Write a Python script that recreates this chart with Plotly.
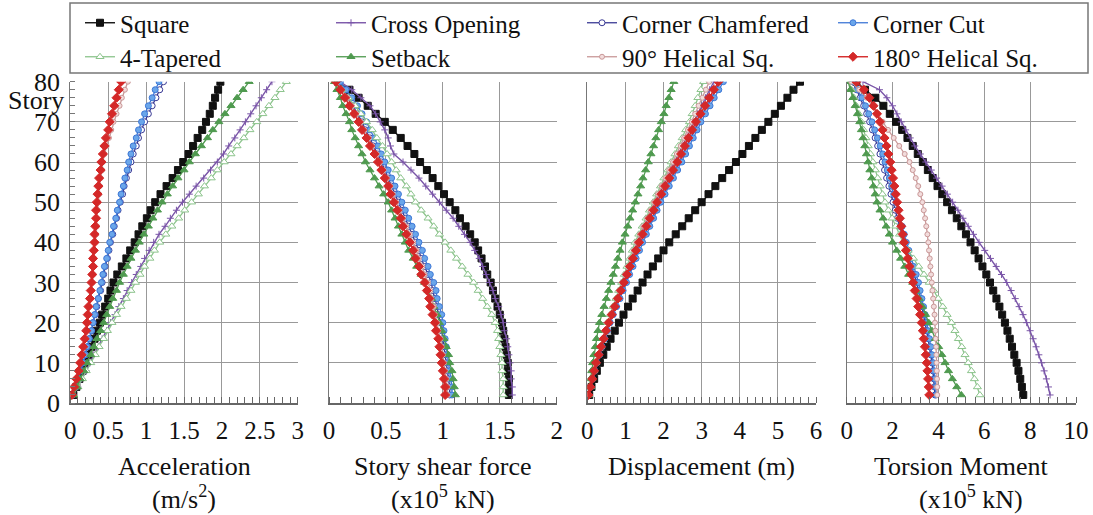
import plotly.graph_objects as go

# ---------------- data ----------------
stories = list(range(2, 82, 2))  # 2,4,...,80

series_names = ["Square", "Cross Opening", "Corner Chamfered", "Corner Cut",
                "4-Tapered", "Setback", "90° Helical Sq.", "180° Helical Sq."]

acc_square = [0.04,0.08,0.12,0.16,0.20,0.24,0.28,0.32,0.35,0.39,0.42,0.46,0.50,0.53,0.57,0.62,0.68,0.74,0.79,0.85,
              0.90,0.95,1.01,1.06,1.12,1.19,1.27,1.35,1.42,1.49,1.56,1.62,1.68,1.74,1.79,1.84,1.88,1.91,1.95,1.98]
acc_cross = [0.04,0.10,0.15,0.21,0.26,0.31,0.37,0.42,0.48,0.53,0.59,0.64,0.70,0.75,0.81,0.87,0.93,0.98,1.04,1.10,
             1.17,1.25,1.32,1.40,1.48,1.57,1.66,1.76,1.85,1.94,2.02,2.09,2.17,2.24,2.31,2.38,2.45,2.52,2.59,2.66]
acc_chamf = [0.03,0.07,0.10,0.14,0.17,0.20,0.23,0.25,0.28,0.30,0.33,0.35,0.37,0.40,0.42,0.44,0.46,0.49,0.51,0.53,
             0.56,0.58,0.61,0.63,0.66,0.69,0.71,0.74,0.77,0.80,0.83,0.87,0.90,0.94,0.98,1.03,1.08,1.13,1.18,1.23]
acc_cut = [0.03,0.07,0.10,0.14,0.17,0.20,0.22,0.25,0.28,0.30,0.32,0.34,0.37,0.39,0.41,0.43,0.45,0.48,0.50,0.52,
           0.55,0.57,0.60,0.62,0.65,0.67,0.70,0.72,0.75,0.77,0.80,0.83,0.87,0.90,0.94,0.98,1.03,1.08,1.12,1.17]
acc_taper = [0.04,0.10,0.16,0.21,0.27,0.33,0.38,0.44,0.49,0.55,0.61,0.67,0.74,0.80,0.86,0.92,0.98,1.05,1.11,1.18,
             1.26,1.34,1.43,1.51,1.60,1.69,1.77,1.86,1.94,2.03,2.12,2.20,2.29,2.37,2.46,2.54,2.62,2.70,2.77,2.85]
acc_setback = [0.04,0.09,0.13,0.18,0.22,0.27,0.31,0.35,0.40,0.44,0.48,0.52,0.56,0.61,0.65,0.70,0.75,0.80,0.86,0.91,
               0.97,1.03,1.09,1.15,1.21,1.28,1.35,1.42,1.50,1.57,1.65,1.73,1.81,1.88,1.96,2.04,2.12,2.20,2.28,2.36]
acc_hel90 = [0.02,0.05,0.08,0.11,0.13,0.15,0.17,0.19,0.21,0.22,0.24,0.25,0.26,0.28,0.29,0.30,0.31,0.31,0.32,0.33,
             0.34,0.35,0.35,0.36,0.37,0.38,0.39,0.40,0.42,0.43,0.45,0.48,0.51,0.54,0.57,0.61,0.65,0.68,0.72,0.76]
acc_hel180 = [0.02,0.05,0.08,0.11,0.13,0.15,0.17,0.19,0.21,0.22,0.23,0.24,0.26,0.27,0.28,0.29,0.30,0.30,0.31,0.32,
              0.32,0.33,0.34,0.34,0.35,0.36,0.37,0.38,0.40,0.41,0.43,0.45,0.47,0.50,0.52,0.55,0.58,0.61,0.64,0.67]

shear_square = [1.58,1.58,1.58,1.57,1.57,1.56,1.55,1.54,1.53,1.52,1.50,1.48,1.46,1.44,1.42,1.39,1.37,1.34,1.31,1.28,
                1.24,1.20,1.15,1.11,1.06,1.01,0.96,0.91,0.86,0.80,0.75,0.69,0.63,0.56,0.49,0.41,0.34,0.26,0.18,0.08]
shear_cross = [1.61,1.61,1.60,1.60,1.59,1.58,1.57,1.56,1.54,1.53,1.51,1.49,1.46,1.44,1.41,1.38,1.35,1.32,1.28,1.24,
               1.19,1.14,1.09,1.03,0.97,0.91,0.85,0.79,0.72,0.65,0.57,0.54,0.52,0.49,0.45,0.41,0.36,0.28,0.20,0.10]
shear_chamf = [1.06,1.06,1.05,1.04,1.03,1.02,1.01,1.00,0.99,0.98,0.96,0.95,0.93,0.91,0.90,0.87,0.84,0.81,0.79,0.76,
               0.73,0.70,0.67,0.64,0.61,0.58,0.55,0.52,0.49,0.46,0.43,0.39,0.36,0.32,0.29,0.25,0.21,0.16,0.12,0.07]
shear_cut = [1.08,1.08,1.07,1.06,1.05,1.04,1.03,1.02,1.01,1.00,0.99,0.97,0.95,0.94,0.92,0.89,0.87,0.84,0.82,0.79,
             0.76,0.73,0.70,0.67,0.64,0.61,0.58,0.55,0.52,0.49,0.46,0.43,0.40,0.36,0.33,0.29,0.25,0.20,0.15,0.10]
shear_taper = [1.53,1.53,1.53,1.52,1.52,1.51,1.50,1.49,1.48,1.46,1.43,1.39,1.35,1.31,1.27,1.22,1.17,1.12,1.07,1.02,
               0.97,0.92,0.87,0.81,0.76,0.72,0.68,0.63,0.59,0.55,0.51,0.47,0.42,0.38,0.33,0.28,0.23,0.17,0.11,0.05]
shear_setback = [1.11,1.10,1.09,1.08,1.06,1.05,1.03,1.01,0.99,0.97,0.95,0.92,0.90,0.87,0.84,0.81,0.77,0.74,0.70,0.67,
                 0.64,0.61,0.58,0.55,0.52,0.48,0.44,0.40,0.36,0.32,0.29,0.26,0.23,0.20,0.18,0.15,0.12,0.10,0.07,0.05]
shear_hel90 = [1.04,1.04,1.03,1.02,1.01,1.00,0.99,0.98,0.96,0.95,0.93,0.92,0.90,0.89,0.87,0.84,0.82,0.79,0.77,0.74,
               0.71,0.68,0.65,0.62,0.59,0.56,0.54,0.51,0.48,0.45,0.42,0.38,0.35,0.31,0.28,0.24,0.20,0.16,0.11,0.07]
shear_hel180 = [1.02,1.02,1.01,1.00,0.99,0.98,0.97,0.96,0.94,0.93,0.91,0.89,0.88,0.86,0.84,0.81,0.79,0.76,0.74,0.71,
                0.68,0.65,0.63,0.60,0.57,0.54,0.52,0.49,0.46,0.43,0.40,0.36,0.33,0.29,0.26,0.22,0.18,0.14,0.10,0.06]

disp_square = [0.05,0.11,0.18,0.25,0.33,0.42,0.51,0.61,0.72,0.83,0.95,1.07,1.19,1.32,1.45,1.58,1.72,1.86,2.00,2.15,
               2.32,2.49,2.66,2.83,3.00,3.18,3.36,3.54,3.72,3.90,4.07,4.24,4.41,4.58,4.75,4.92,5.08,5.25,5.41,5.58]
disp_cross = [0.03,0.08,0.13,0.18,0.23,0.29,0.36,0.42,0.49,0.55,0.63,0.71,0.78,0.86,0.94,1.02,1.09,1.17,1.24,1.32,
              1.41,1.50,1.60,1.69,1.78,1.88,1.98,2.09,2.19,2.29,2.39,2.49,2.58,2.68,2.78,2.89,3.00,3.10,3.21,3.32]
disp_chamf = [0.03,0.08,0.14,0.19,0.24,0.31,0.38,0.44,0.51,0.58,0.66,0.75,0.83,0.92,1.00,1.08,1.16,1.25,1.33,1.41,
              1.50,1.60,1.69,1.79,1.88,1.99,2.10,2.20,2.31,2.42,2.52,2.62,2.72,2.82,2.92,3.03,3.15,3.26,3.38,3.49]
disp_cut = [0.03,0.09,0.14,0.20,0.25,0.32,0.39,0.46,0.53,0.60,0.68,0.77,0.86,0.94,1.03,1.11,1.20,1.28,1.37,1.45,
            1.55,1.64,1.74,1.83,1.93,2.04,2.15,2.26,2.37,2.48,2.58,2.68,2.78,2.88,2.98,3.10,3.22,3.33,3.45,3.57]
disp_taper = [0.03,0.08,0.12,0.17,0.22,0.28,0.34,0.40,0.46,0.52,0.60,0.67,0.75,0.82,0.90,0.97,1.04,1.11,1.18,1.25,
              1.35,1.44,1.54,1.63,1.73,1.82,1.92,2.01,2.11,2.20,2.30,2.39,2.49,2.58,2.68,2.75,2.83,2.90,2.98,3.05]
disp_setback = [0.02,0.05,0.08,0.11,0.14,0.17,0.21,0.24,0.28,0.32,0.38,0.44,0.50,0.56,0.62,0.68,0.74,0.80,0.86,0.92,
                0.99,1.06,1.12,1.19,1.26,1.33,1.40,1.46,1.53,1.60,1.67,1.74,1.80,1.87,1.94,2.01,2.07,2.14,2.20,2.27]
disp_hel90 = [0.03,0.08,0.12,0.17,0.22,0.28,0.35,0.41,0.48,0.54,0.62,0.69,0.77,0.84,0.92,0.99,1.07,1.14,1.22,1.29,
              1.38,1.47,1.57,1.66,1.75,1.85,1.95,2.05,2.15,2.25,2.35,2.45,2.54,2.64,2.74,2.83,2.92,3.02,3.11,3.20]
disp_hel180 = [0.03,0.08,0.13,0.18,0.23,0.30,0.36,0.43,0.49,0.56,0.64,0.72,0.80,0.88,0.96,1.04,1.12,1.20,1.28,1.36,
               1.45,1.55,1.64,1.74,1.83,1.94,2.04,2.15,2.25,2.36,2.46,2.56,2.65,2.75,2.85,2.97,3.09,3.20,3.32,3.44]

tor_square = [7.70,7.64,7.57,7.49,7.41,7.31,7.21,7.11,7.01,6.90,6.78,6.66,6.53,6.39,6.25,6.09,5.92,5.75,5.58,5.40,
              5.20,5.00,4.80,4.59,4.38,4.17,3.96,3.75,3.54,3.32,3.10,2.88,2.65,2.42,2.15,1.88,1.60,1.25,0.80,0.42]
tor_cross = [8.87,8.80,8.71,8.61,8.50,8.38,8.26,8.13,8.00,7.85,7.69,7.52,7.35,7.17,6.98,6.75,6.52,6.27,6.02,5.77,
             5.53,5.30,5.07,4.85,4.62,4.39,4.16,3.92,3.69,3.45,3.21,2.97,2.77,2.57,2.38,2.19,2.00,1.75,1.43,0.71]
tor_chamf = [3.85,3.83,3.80,3.76,3.72,3.67,3.61,3.55,3.48,3.42,3.35,3.28,3.20,3.13,3.05,2.94,2.83,2.72,2.61,2.50,
             2.40,2.31,2.21,2.12,2.02,1.93,1.84,1.74,1.65,1.55,1.45,1.35,1.24,1.12,1.00,0.87,0.74,0.59,0.43,0.25]
tor_cut = [3.90,3.88,3.85,3.82,3.78,3.73,3.67,3.61,3.55,3.49,3.42,3.35,3.28,3.20,3.13,3.03,2.92,2.81,2.71,2.60,
           2.51,2.42,2.33,2.24,2.15,2.05,1.96,1.86,1.77,1.67,1.57,1.46,1.34,1.22,1.10,0.96,0.82,0.66,0.48,0.28]
tor_taper = [5.81,5.70,5.57,5.44,5.30,5.16,5.02,4.87,4.72,4.57,4.38,4.19,3.99,3.80,3.60,3.37,3.14,2.91,2.68,2.45,
             2.30,2.14,1.98,1.82,1.67,1.56,1.46,1.35,1.25,1.14,1.04,0.94,0.84,0.74,0.64,0.53,0.42,0.32,0.21,0.10]
tor_setback = [5.00,4.80,4.61,4.44,4.29,4.15,4.01,3.86,3.72,3.58,3.44,3.30,3.16,3.02,2.88,2.70,2.53,2.35,2.18,2.00,
               1.86,1.72,1.59,1.45,1.32,1.24,1.16,1.09,1.01,0.93,0.86,0.79,0.71,0.64,0.57,0.47,0.37,0.27,0.16,0.06]
tor_hel90 = [3.95,3.95,3.94,3.93,3.92,3.91,3.90,3.88,3.87,3.85,3.83,3.80,3.77,3.74,3.71,3.68,3.65,3.62,3.59,3.56,
             3.52,3.47,3.42,3.36,3.30,3.21,3.12,3.01,2.88,2.74,2.53,2.29,2.05,1.80,1.57,1.36,1.13,0.87,0.55,0.20]
tor_hel180 = [3.60,3.58,3.55,3.52,3.49,3.45,3.41,3.36,3.32,3.27,3.20,3.12,3.05,2.97,2.90,2.82,2.74,2.66,2.58,2.50,
              2.44,2.38,2.32,2.26,2.20,2.14,2.08,2.02,1.96,1.90,1.82,1.74,1.65,1.56,1.45,1.32,1.17,0.99,0.75,0.42]

panel_data = [
    [acc_square, acc_cross, acc_chamf, acc_cut, acc_taper, acc_setback, acc_hel90, acc_hel180],
    [shear_square, shear_cross, shear_chamf, shear_cut, shear_taper, shear_setback, shear_hel90, shear_hel180],
    [disp_square, disp_cross, disp_chamf, disp_cut, disp_taper, disp_setback, disp_hel90, disp_hel180],
    [tor_square, tor_cross, tor_chamf, tor_cut, tor_taper, tor_setback, tor_hel90, tor_hel180],
]

x_ranges = [[0, 3], [0, 2], [0, 6], [0, 10]]
x_minor = [0.1, 0.1, 0.2, 0.4]
x_tickvals = [[0, 0.5, 1, 1.5, 2, 2.5, 3], [0, 0.5, 1, 1.5, 2], [0, 1, 2, 3, 4, 5, 6], [0, 2, 4, 6, 8, 10]]
x_ticktext = [["0", "0.5", "1", "1.5", "2", "2.5", "3"], ["0", "0.5", "1", "1.5", "2"],
              ["0", "1", "2", "3", "4", "5", "6"], ["0", "2", "4", "6", "8", "10"]]
y_tickvals = [0, 10, 20, 30, 40, 50, 60, 70, 80]

title_line1 = ["Acceleration", "Story shear force", "Displacement (m)", "Torsion Moment"]
title_line2 = ["(m/s<sup>2</sup>)", "(x10<sup>5</sup> kN)", "", "(x10<sup>5</sup> kN)"]

# ---------------- styles ----------------
W, H = 1093, 515
FONT = "Liberation Serif"

styles = [
    dict(color="#111111", symbol="square", size=7, fill="#111111", lw=1.4),
    dict(color="#7a55a8", symbol="cross-thin-open", size=5, fill="#7a55a8", lw=1.4),
    dict(color="#3a3a95", symbol="circle", size=6, fill="#ffffff", lw=1.3),
    dict(color="#3f78d6", symbol="circle", size=6, fill="#6aa6ea", lw=1.3),
    dict(color="#8cc48c", symbol="triangle-up", size=7, fill="#ffffff", lw=1.3),
    dict(color="#4f9a4f", symbol="triangle-up", size=7, fill="#4f9a4f", lw=1.3),
    dict(color="#c99898", symbol="circle", size=5, fill="#f2dcdc", lw=1.3),
    dict(color="#d42828", symbol="diamond", size=7, fill="#d42828", lw=1.4),
]

px_domains = [(70.3, 297.7), (329.0, 556.7), (587.3, 816.0), (846.7, 1076.0)]
y_top_px, y_bot_px = 81.7, 403.0
ydom = [(H - y_bot_px) / H, (H - y_top_px) / H]

fig = go.Figure()
for p in range(4):
    xa = "x" if p == 0 else f"x{p+1}"
    ya = "y" if p == 0 else f"y{p+1}"
    for k in range(8):
        st = styles[k]
        fig.add_trace(go.Scatter(
            x=panel_data[p][k], y=stories, xaxis=xa, yaxis=ya,
            mode="lines+markers", name=series_names[k], legendgroup=series_names[k],
            legend="legend" if k < 4 else "legend2",
            showlegend=(p == 0),
            line=dict(color=st["color"], width=st["lw"]),
            marker=dict(symbol=st["symbol"], size=st["size"], color=st["fill"],
                        line=dict(color=st["color"], width=1)),
        ))

legend_common = dict(orientation="h", x=80 / W, xanchor="left", yanchor="middle",
                     entrywidth=206, entrywidthmode="pixels", itemwidth=30,
                     borderwidth=0, bgcolor="rgba(0,0,0,0)",
                     font=dict(family=FONT, size=25, color="#111111"))

layout = dict(
    template="none",
    width=W, height=H, margin=dict(l=0, r=0, t=0, b=0, autoexpand=False),
    paper_bgcolor="white", plot_bgcolor="white",
    font=dict(family=FONT, size=24, color="#111111"),
    legend=dict(y=1 - 23 / H, **legend_common),
    legend2=dict(y=1 - 57 / H, **legend_common),
    shapes=[dict(type="rect", xref="paper", yref="paper",
                 x0=70 / W, x1=1088 / W, y0=1 - 73 / H, y1=1 - 3 / H,
                 line=dict(color="#777777", width=1.5), fillcolor="rgba(0,0,0,0)", layer="above")],
    annotations=[],
)

for p in range(4):
    xk = "xaxis" if p == 0 else f"xaxis{p+1}"
    yk = "yaxis" if p == 0 else f"yaxis{p+1}"
    d0, d1 = px_domains[p]
    layout[xk] = dict(
        domain=[d0 / W, d1 / W], range=x_ranges[p], anchor="y" if p == 0 else f"y{p+1}",
        automargin=False,
        tickmode="array", tickvals=x_tickvals[p], ticktext=x_ticktext[p],
        showgrid=True, gridcolor="#999999", gridwidth=1,
        showline=True, linecolor="#666666", linewidth=1.5, mirror=False,
        ticks="", ticklabelstandoff=4,
        tickfont=dict(family=FONT, size=25, color="#111111"),
        minor=dict(dtick=x_minor[p], tick0=0, ticks="inside", ticklen=6, tickcolor="#666666",
                   showgrid=False),
        zeroline=False, fixedrange=True,
    )
    ydict = dict(
        domain=ydom, range=[0, 80], anchor="x" if p == 0 else f"x{p+1}",
        automargin=False,
        tickmode="array", tickvals=y_tickvals,
        showgrid=True, gridcolor="#999999", gridwidth=1,
        showline=True, linecolor="#777777", linewidth=1,
        zeroline=False, fixedrange=True,
    )
    if p == 0:
        ydict.update(ticktext=[str(v) for v in y_tickvals], ticks="", ticklabelstandoff=4,
                     tickfont=dict(family=FONT, size=26, color="#111111"),
                     minor=dict(dtick=2, tick0=0, ticks="inside", ticklen=5, tickcolor="#777777",
                                showgrid=False))
    else:
        ydict.update(showticklabels=False, ticks="")
    layout[yk] = ydict

    cx = (d0 + d1) / 2 / W
    layout["annotations"].append(dict(
        text=title_line1[p], x=cx, y=1 - 466 / H, xref="paper", yref="paper",
        xanchor="center", yanchor="middle", showarrow=False,
        font=dict(family=FONT, size=26, color="#111111")))
    if title_line2[p]:
        layout["annotations"].append(dict(
            text=title_line2[p], x=cx + (10 / W if p == 3 else 0), y=1 - 497 / H,
            xref="paper", yref="paper",
            xanchor="center", yanchor="middle", showarrow=False,
            font=dict(family=FONT, size=26, color="#111111")))

layout["annotations"].append(dict(
    text="Story", x=36 / W, y=1 - 100 / H, xref="paper", yref="paper",
    xanchor="center", yanchor="middle", showarrow=False,
    font=dict(family=FONT, size=26, color="#111111")))

fig.update_layout(**layout)
fig.write_html("out.html")
